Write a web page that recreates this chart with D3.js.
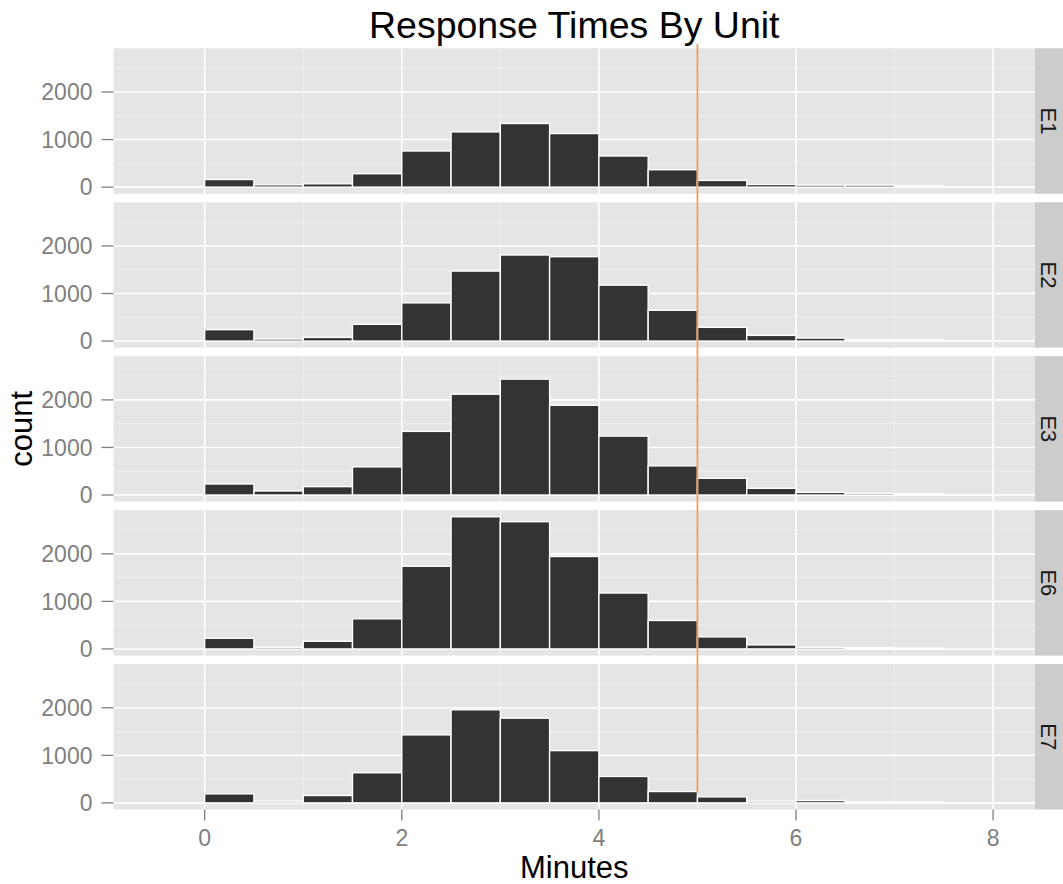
<!DOCTYPE html>
<html>
<head>
<meta charset="utf-8">
<script src="https://cdn.jsdelivr.net/npm/d3@7"></script>
<style>
  body { margin: 0; background: #fff; }
  text { font-family: "Liberation Sans", Arial, sans-serif; }
</style>
</head>
<body>
<svg id="chart" width="1063" height="884"></svg>
<script>
// data: histogram bins of width 0.5 minutes
const units = ["E1", "E2", "E3", "E6", "E7"]
const binEdges = [-0.5, 0, 0.5, 1, 1.5, 2, 2.5, 3, 3.5, 4, 4.5, 5, 5.5, 6, 6.5, 7, 7.5, 8]
const countsE1 = [0, 160, 49, 70, 282, 760, 1162, 1338, 1127, 655, 366, 141, 56, 42, 42, 28, 0]
const countsE2 = [0, 240, 42, 77, 352, 803, 1472, 1810, 1775, 1176, 648, 289, 120, 63, 28, 28, 7]
const countsE3 = [0, 232, 85, 176, 592, 1338, 2120, 2437, 1887, 1239, 613, 352, 141, 56, 35, 28, 7]
const countsE6 = [0, 225, 35, 162, 634, 1739, 2780, 2676, 1944, 1176, 599, 254, 85, 35, 28, 21, 0]
const countsE7 = [0, 190, 35, 155, 634, 1430, 1958, 1782, 1099, 556, 239, 127, 35, 49, 21, 21, 0]
const xTicks = [0, 2, 4, 6, 8]
const xMinor = [1, 3, 5, 7]
const yTicks = [0, 1000, 2000]
const yMinor = [500, 1500, 2500]
const cutoff = 5

const countsByUnit = [countsE1, countsE2, countsE3, countsE6, countsE7]

let svg = d3.select("#chart")

let pLeft = 113.5, pRight = 1035,
    pTop = 48.3, pBottom = 809.5,
    gap = 8.5,
    panelH = (pBottom - pTop - gap * (units.length - 1)) / units.length

// ggplot style 5% expansion
let xLo = binEdges[0], xHi = binEdges[binEdges.length - 1]
let xPad = (xHi - xLo) * 0.05
const x = d3.scaleLinear()
    .domain([xLo - xPad, xHi + xPad])
    .range([pLeft, pRight])

let maxCount = d3.max(countsByUnit.flat())
const y = d3.scaleLinear()
    .domain([-0.05 * maxCount, 1.05 * maxCount])
    .range([panelH, 0])

let grey50 = "#7f7f7f"

units.forEach((u, k) => {
    let py = pTop + k * (panelH + gap)
    let g = svg.append("g").attr("transform", "translate(0," + py + ")")

    g.append("rect")
        .attr("x", pLeft).attr("y", 0)
        .attr("width", pRight - pLeft).attr("height", panelH)
        .style("fill", "#e5e5e5")

    // minor grid
    g.selectAll("line.xminor").data(xMinor).join("line")
        .attr("class", "xminor")
        .attr("x1", d => x(d)).attr("x2", d => x(d))
        .attr("y1", 0).attr("y2", panelH)
        .style("stroke", "#f2f2f2").style("stroke-width", 0.8)
    g.selectAll("line.yminor").data(yMinor).join("line")
        .attr("class", "yminor")
        .attr("x1", pLeft).attr("x2", pRight)
        .attr("y1", d => y(d)).attr("y2", d => y(d))
        .style("stroke", "#f2f2f2").style("stroke-width", 0.8)

    // major grid
    g.selectAll("line.xmajor").data(xTicks).join("line")
        .attr("class", "xmajor")
        .attr("x1", d => x(d)).attr("x2", d => x(d))
        .attr("y1", 0).attr("y2", panelH)
        .style("stroke", "#fff").style("stroke-width", 1.6)
    g.selectAll("line.ymajor").data(yTicks).join("line")
        .attr("class", "ymajor")
        .attr("x1", pLeft).attr("x2", pRight)
        .attr("y1", d => y(d)).attr("y2", d => y(d))
        .style("stroke", "#fff").style("stroke-width", 1.6)

    // bars
    let bins = countsByUnit[k].map((c, i) => ({ x0: binEdges[i], x1: binEdges[i + 1], count: c }))
    g.selectAll("rect.bar").data(bins).join("rect")
        .attr("class", "bar")
        .attr("x", d => x(d.x0))
        .attr("width", d => x(d.x1) - x(d.x0))
        .attr("y", d => y(d.count))
        .attr("height", d => y(0) - y(d.count))
        .style("fill", "#333333")
        .style("stroke", "#fff")
        .style("stroke-width", 1.4)

    // y axis
    g.selectAll("line.ytick").data(yTicks).join("line")
        .attr("class", "ytick")
        .attr("x1", pLeft - 12).attr("x2", pLeft)
        .attr("y1", d => y(d)).attr("y2", d => y(d))
        .style("stroke", grey50).style("stroke-width", 1.3)
    g.selectAll("text.ylab").data(yTicks).join("text")
        .attr("class", "ylab")
        .attr("x", pLeft - 21)
        .attr("y", d => y(d))
        .attr("dy", "0.36em")
        .attr("text-anchor", "end")
        .attr("font-size", 23)
        .style("fill", grey50)
        .text(d => d)

    // strip on the right (cut by the page edge like the original)
    g.append("rect")
        .attr("x", pRight).attr("y", 0)
        .attr("width", 40).attr("height", panelH)
        .style("fill", "#cccccc")
    g.append("text")
        .attr("transform", "translate(" + (pRight + 14) + "," + (panelH / 2) + ") rotate(90)")
        .attr("text-anchor", "middle")
        .attr("dy", "0.36em")
        .attr("font-size", 22)
        .style("fill", "#1a1a1a")
        .text(u)
})

// x axis ticks and labels under the last panel
svg.selectAll("line.xtick").data(xTicks).join("line")
    .attr("class", "xtick")
    .attr("x1", d => x(d)).attr("x2", d => x(d))
    .attr("y1", pBottom).attr("y2", pBottom + 11)
    .style("stroke", grey50).style("stroke-width", 1.3)
svg.selectAll("text.xlab").data(xTicks).join("text")
    .attr("class", "xlab")
    .attr("x", d => x(d))
    .attr("y", 846)
    .attr("text-anchor", "middle")
    .attr("font-size", 23)
    .style("fill", grey50)
    .text(d => d)

// cutoff line across the facets
svg.append("line")
    .attr("x1", x(cutoff)).attr("x2", x(cutoff))
    .attr("y1", 44).attr("y2", 793)
    .style("stroke", "#f59c4c")
    .style("stroke-width", 1.7)

// titles
svg.append("text")
    .attr("x", (pLeft + pRight) / 2).attr("y", 38)
    .attr("text-anchor", "middle")
    .attr("font-size", 37.5)
    .style("fill", "#000")
    .text("Response Times By Unit")

svg.append("text")
    .attr("x", (pLeft + pRight) / 2).attr("y", 878)
    .attr("text-anchor", "middle")
    .attr("font-size", 31)
    .style("fill", "#000")
    .text("Minutes")

svg.append("text")
    .attr("transform", "translate(32," + ((pTop + pBottom) / 2) + ") rotate(-90)")
    .attr("text-anchor", "middle")
    .attr("font-size", 31)
    .style("fill", "#000")
    .text("count")
</script>
</body>
</html>
